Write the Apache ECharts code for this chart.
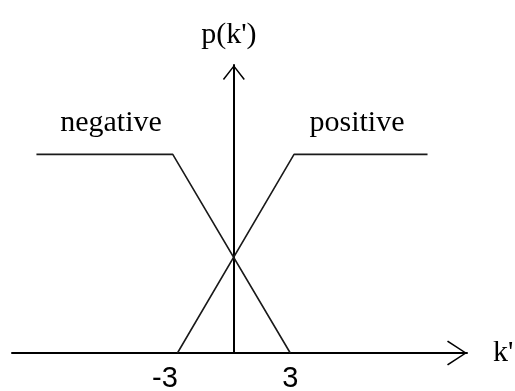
<!DOCTYPE html>
<html>
<head>
<meta charset="utf-8">
<script src="https://cdn.jsdelivr.net/npm/echarts@6/dist/echarts.min.js"></script>
<style>
  html, body { margin: 0; padding: 0; background: #fff; }
  #main { width: 515px; height: 391px; }
</style>
</head>
<body>
<div id="main"></div>
<script>
var negX = [-10.5, -3.25, 3],
    negY = [1, 1, 0];
var posX = [-3, 3.2, 10.3],
    posY = [0, 1, 1];
var tickValues = [-3, 3];
var tickLabels = {'-3': '-3', '3': '3'};
var seriesNames = ['negative', 'positive'];

var serif = 'Liberation Serif';
var sans = 'Liberation Sans';

function pairs(xs, ys) {
  return xs.map(function (x, i) { return [x, ys[i]]; });
}

var chart = echarts.init(document.getElementById('main'));

var option = {
  backgroundColor: '#fff',
  animation: false,
  grid: { left: 12, right: 48, top: 65, bottom: 38, outerBoundsMode: 'none' },
  xAxis: {
    type: 'value',
    min: -11.8,
    max: 12.4,
    name: "k'",
    nameLocation: 'end',
    nameGap: 26,
    nameTextStyle: { fontFamily: serif, fontSize: 30, color: '#000' },
    axisLine: {
      lineStyle: { color: '#000', width: 2 },
      symbol: ['none', 'path://M12.5,0 L25,19 L23.8,20 L12.5,2.5 L1.2,20 L0,19 Z'],
      symbolSize: [25, 20],
      symbolOffset: [0, -10]
    },
    axisTick: { show: false },
    splitLine: { show: false },
    axisLabel: {
      customValues: tickValues,
      margin: 11,
      fontFamily: sans,
      fontSize: 29,
      color: '#000',
      formatter: function (v) {
        return v < 0 ? '{a|' + tickLabels[v] + '}' : tickLabels[v];
      },
      rich: { a: { fontFamily: sans, fontSize: 29, color: '#000', padding: [0, 25, 0, 0] } }
    }
  },
  yAxis: {
    type: 'value',
    min: 0,
    max: 1.45,
    name: "p(k')",
    nameLocation: 'end',
    nameGap: 15,
    nameTextStyle: { fontFamily: serif, fontSize: 30, color: '#000', padding: [0, 10, 0, 0] },
    axisLine: {
      onZero: true,
      lineStyle: { color: '#000', width: 2 },
      symbol: ['none', 'path://M11,0 L22,14 L20.8,15 L11,2.3 L1.2,15 L0,14 Z'],
      symbolSize: [22, 15],
      symbolOffset: [0, -7.5]
    },
    axisTick: { show: false },
    axisLabel: { show: false },
    splitLine: { show: false }
  },
  graphic: [
    { type: 'text', x: 111, y: 123, style: { text: seriesNames[0], font: '30px "Liberation Serif"', fill: '#000', textAlign: 'center', textVerticalAlign: 'middle' } },
    { type: 'text', x: 357, y: 123, style: { text: seriesNames[1], font: '30px "Liberation Serif"', fill: '#000', textAlign: 'center', textVerticalAlign: 'middle' } }
  ],
  series: [
    {
      name: seriesNames[0],
      type: 'line',
      symbol: 'none',
      lineStyle: { color: '#1a1a1a', width: 1.6 },
      data: pairs(negX, negY)
    },
    {
      name: seriesNames[1],
      type: 'line',
      symbol: 'none',
      lineStyle: { color: '#1a1a1a', width: 1.6 },
      data: pairs(posX, posY)
    }
  ]
};

chart.setOption(option);
</script>
</body>
</html>
